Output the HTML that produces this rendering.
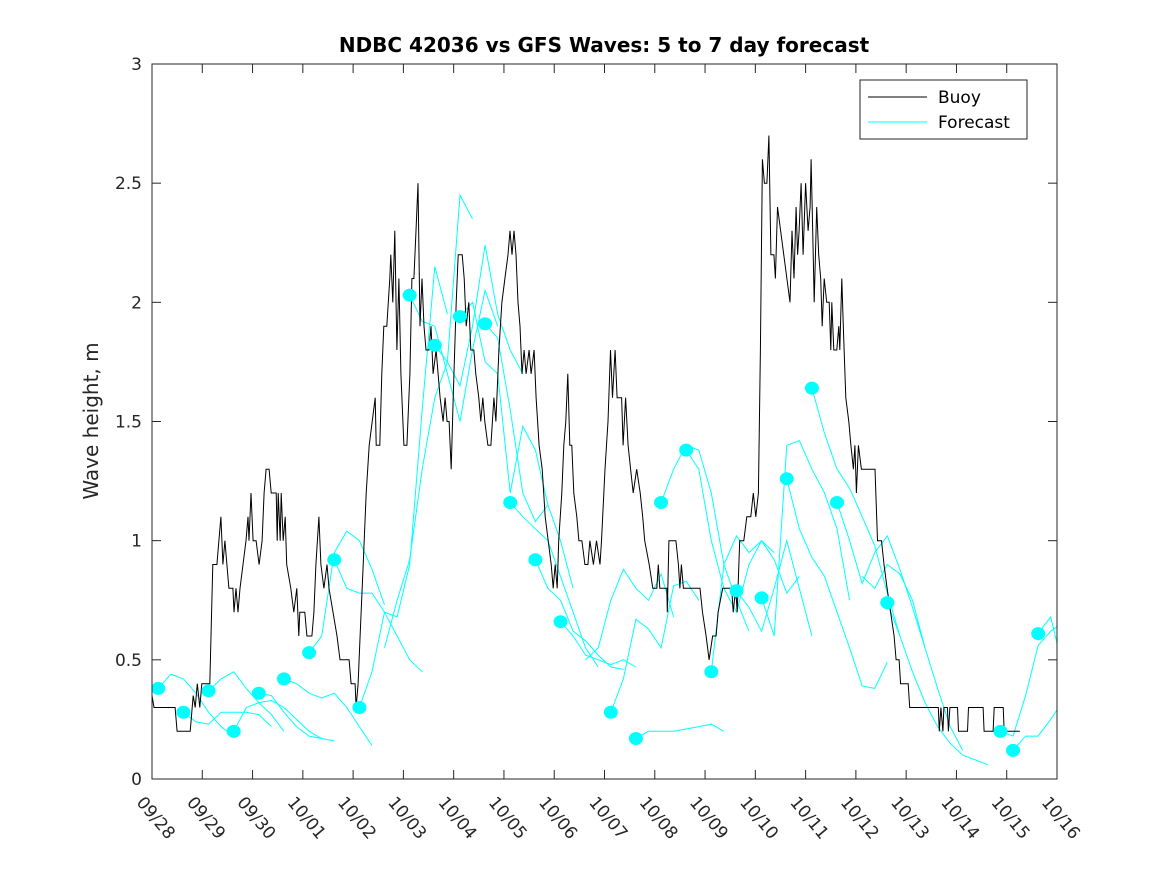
<!DOCTYPE html>
<html><head><meta charset="utf-8"><style>
body{margin:0;background:#fff}
svg{display:block;font-family:"DejaVu Sans","Liberation Sans",sans-serif}
</style></head><body>
<svg id="chart" width="1167" height="875" xmlns="http://www.w3.org/2000/svg">
<defs><clipPath id="plotclip"><rect x="152" y="64" width="905" height="715"/></clipPath></defs>
<rect x="0" y="0" width="1167" height="875" fill="#fff"/>
<text x="604" y="52" text-anchor="middle" font-size="20" font-weight="bold" fill="#000">NDBC 42036 vs GFS Waves: 5 to 7 day forecast</text>
<text transform="translate(98,421) rotate(-90)" text-anchor="middle" font-size="20" fill="#262626">Wave height, m</text>
<g id="axes"></g>
<g id="series" clip-path="url(#plotclip)"></g>
<rect x="152" y="64" width="905" height="715" fill="none" stroke="#262626" stroke-width="1"/>
<g>
<rect x="860" y="80" width="167" height="59" fill="#fff" stroke="#262626"/>
<line x1="868" y1="97" x2="927" y2="97" stroke="#000"/>
<text x="938" y="103" font-size="17" fill="#000">Buoy</text>
<line x1="868" y1="122" x2="927" y2="122" stroke="#00ffff"/>
<text x="938" y="128" font-size="17" fill="#000">Forecast</text>
</g>
</svg>
<script>
const xTickLabels=["09/28","09/29","09/30","10/01","10/02","10/03","10/04","10/05","10/06","10/07","10/08","10/09","10/10","10/11","10/12","10/13","10/14","10/15","10/16"];
const yTicks=[0,0.5,1,1.5,2,2.5,3];
const yTickLabels=["0","0.5","1","1.5","2","2.5","3"];
const buoyDay=[0,0.04,0.46,0.50,0.76,0.82,0.86,0.90,0.95,0.99,1.15,1.21,1.29,1.33,1.37,1.41,1.45,1.49,1.53,1.61,1.63,1.67,1.71,1.75,1.81,1.87,1.91,1.93,1.97,2.01,2.07,2.13,2.19,2.23,2.27,2.33,2.37,2.47,2.49,2.51,2.55,2.57,2.61,2.65,2.68,2.76,2.82,2.88,2.92,2.94,3.04,3.08,3.18,3.22,3.26,3.32,3.36,3.42,3.48,3.52,3.60,3.68,3.74,3.92,3.96,4.04,4.06,4.10,4.14,4.20,4.26,4.32,4.38,4.44,4.46,4.53,4.57,4.61,4.67,4.73,4.75,4.79,4.83,4.87,4.91,4.95,5.01,5.07,5.13,5.17,5.21,5.25,5.29,5.33,5.37,5.41,5.45,5.51,5.55,5.59,5.65,5.69,5.73,5.79,5.83,5.87,5.91,5.95,5.99,6.05,6.09,6.17,6.21,6.25,6.30,6.34,6.40,6.44,6.50,6.54,6.58,6.62,6.68,6.74,6.80,6.84,6.90,6.96,7.02,7.08,7.12,7.16,7.20,7.24,7.28,7.32,7.36,7.40,7.44,7.50,7.54,7.60,7.64,7.70,7.76,7.82,7.88,7.94,7.98,8.02,8.06,8.09,8.15,8.19,8.23,8.27,8.31,8.35,8.39,8.45,8.49,8.55,8.61,8.67,8.71,8.78,8.84,8.91,8.94,9.01,9.07,9.12,9.16,9.21,9.25,9.34,9.37,9.42,9.47,9.52,9.57,9.64,9.71,9.76,9.80,9.89,9.96,10.04,10.07,10.10,10.24,10.25,10.28,10.42,10.47,10.50,10.53,10.57,10.90,10.95,11.02,11.08,11.15,11.22,11.26,11.35,11.53,11.56,11.61,11.64,11.69,11.77,11.83,11.91,11.96,12.01,12.06,12.10,12.14,12.18,12.23,12.27,12.31,12.37,12.40,12.44,12.69,12.73,12.77,12.81,12.84,12.87,12.91,12.95,13.00,13.05,13.09,13.11,13.14,13.17,13.22,13.26,13.30,13.33,13.37,13.42,13.47,13.50,13.52,13.56,13.62,13.66,13.68,13.72,13.75,13.80,13.86,13.90,13.95,13.98,14.01,14.05,14.11,14.38,14.43,14.51,14.56,14.62,14.69,14.76,14.80,14.86,14.89,15.04,15.07,15.64,15.66,15.69,15.73,15.75,15.82,15.84,15.87,16.02,16.04,16.22,16.24,16.53,16.55,16.73,16.75,16.93,16.95,17.26];
const buoyVal=[0.35,0.3,0.3,0.2,0.2,0.35,0.3,0.4,0.3,0.4,0.4,0.9,0.9,1.0,1.1,0.9,1.0,0.9,0.8,0.8,0.7,0.8,0.7,0.8,0.9,1.0,1.1,1.0,1.2,1.0,1.0,0.9,1.0,1.2,1.3,1.3,1.2,1.2,1.0,1.2,1.0,1.2,1.0,1.1,0.9,0.8,0.7,0.8,0.6,0.7,0.7,0.6,0.6,0.7,0.9,1.1,0.9,0.8,0.9,0.8,0.7,0.6,0.5,0.5,0.4,0.4,0.3,0.4,0.6,0.9,1.2,1.4,1.5,1.6,1.4,1.4,1.7,1.9,1.9,2.1,2.2,2.0,2.3,1.8,2.1,1.7,1.4,1.4,1.7,2.1,2.1,2.3,2.5,1.9,2.1,1.9,1.8,1.8,1.9,1.7,1.8,1.7,1.6,1.5,1.6,1.5,1.5,1.3,1.6,2.0,2.2,2.2,2.1,1.9,2.0,1.8,1.8,1.7,1.6,1.5,1.6,1.5,1.4,1.4,1.6,1.5,1.8,2.0,2.1,2.2,2.3,2.2,2.3,2.2,2.0,1.9,1.7,1.8,1.7,1.8,1.7,1.8,1.6,1.4,1.3,1.1,1.0,0.9,0.8,0.9,0.8,1.0,1.2,1.4,1.5,1.7,1.4,1.4,1.2,1.1,1.0,1.0,0.9,0.9,1.0,0.9,1.0,0.9,1.0,1.3,1.5,1.8,1.6,1.8,1.6,1.6,1.4,1.6,1.4,1.3,1.2,1.3,1.2,1.1,1.0,0.9,0.8,0.8,0.9,0.8,0.8,0.7,1.0,1.0,0.9,0.8,0.9,0.8,0.8,0.7,0.6,0.5,0.6,0.6,0.7,0.8,0.8,0.7,0.8,0.7,1.0,1.0,1.1,1.1,1.2,1.1,1.2,1.8,2.6,2.5,2.5,2.7,2.2,2.2,2.1,2.4,2.0,2.3,2.1,2.4,2.2,2.3,2.5,2.2,2.5,2.3,2.4,2.6,2.3,2.0,2.4,2.2,2.1,1.9,2.1,2.0,2.0,1.8,2.0,1.8,1.8,1.9,1.8,2.1,1.9,1.6,1.5,1.4,1.3,1.4,1.2,1.4,1.3,1.3,1.0,1.0,0.9,0.8,0.7,0.6,0.5,0.5,0.4,0.4,0.3,0.3,0.2,0.3,0.2,0.3,0.3,0.2,0.3,0.3,0.2,0.2,0.3,0.3,0.2,0.2,0.3,0.3,0.2,0.2];
const fcStart=[0.125,0.625,1.125,1.625,2.125,2.625,3.125,3.625,4.125,4.625,5.125,5.625,6.125,6.625,7.125,7.625,8.125,8.625,9.125,9.625,10.125,10.625,11.125,11.625,12.125,12.625,13.125,13.625,14.125,14.625,16.875,17.125,17.625];
const fcMarked=[1,1,1,1,1,1,1,1,1,0,1,1,1,1,1,1,1,0,1,1,1,1,1,1,1,1,1,1,0,1,1,1,1];
const fcValues=[
[0.38,0.44,0.42,0.36,0.28,0.22,0.18],
[0.28,0.24,0.23,0.28,0.28,0.28,0.27,0.22],
[0.37,0.42,0.45,0.38,0.32,0.27,0.20],
[0.20,0.30,0.32,0.33,0.30,0.25,0.20,0.17],
[0.36,0.35,0.28,0.22,0.18,0.17,0.16],
[0.42,0.40,0.36,0.34,0.36,0.30,0.22,0.14],
[0.53,0.60,0.95,1.04,1.00,0.88,0.73],
[0.92,0.80,0.78,0.78,0.70,0.60,0.50,0.45],
[0.30,0.45,0.70,0.68,0.90,1.55,2.15,1.95],
[0.55,0.75,0.92,1.30,1.60,1.75,2.45,2.35],
[2.03,1.92,1.90,1.70,1.50,1.80,2.05,1.90],
[1.82,1.75,1.65,1.90,2.24,1.95,1.80,1.70],
[1.94,2.00,1.75,1.70,1.20,1.48,1.38,1.15],
[1.91,1.85,1.55,1.20,1.08,1.15,1.00,0.80],
[1.16,1.10,1.05,1.00,0.85,0.70,0.55,0.47],
[0.92,0.80,0.75,0.62,0.58,0.52,0.47,0.46],
[0.66,0.60,0.52,0.50,0.48,0.50,0.47],
[0.50,0.55,0.75,0.88,0.80,0.75,0.86,0.68],
[0.28,0.42,0.67,0.63,0.55,0.81,0.83,0.75],
[0.17,0.20,0.20,0.20,0.21,0.22,0.23,0.20],
[1.16,1.30,1.40,1.38,1.20,0.90,0.75,0.62],
[1.38,1.30,1.00,0.80,0.70,0.90,1.00,0.95],
[0.45,0.90,1.02,0.95,1.00,0.92,0.78,0.85],
[0.79,0.72,0.62,0.80,1.00,0.80,0.60],
[0.76,0.60,1.40,1.42,1.30,1.20,1.05,0.75],
[1.26,1.05,0.93,0.85,0.70,0.55,0.39,0.38,0.49],
[1.64,1.45,1.30,1.22,1.10,0.98,0.78,0.60],
[1.16,1.00,0.82,0.95,1.02,0.88,0.72,0.55],
[0.85,0.80,0.90,0.86,0.75,0.55,0.38,0.22,0.12],
[0.74,0.60,0.45,0.32,0.22,0.15,0.10,0.08,0.06],
[0.20,0.18,0.35,0.56,0.62,0.66],
[0.12,0.18,0.18,0.25,0.33,0.35],
[0.61,0.68,0.46]
];
const fcStep=0.25;
const X0=152,X1=1057,Y0=779,Y1=64,DMAX=18,VMAX=3;
function xs(d){return X0+(X1-X0)*d/DMAX;}
function ys(v){return Y0-(Y0-Y1)*v/VMAX;}
const NS='http://www.w3.org/2000/svg';
const axes=document.getElementById('axes');
const series=document.getElementById('series');
function mk(tag,attrs,parent){const e=document.createElementNS(NS,tag);for(const k in attrs)e.setAttribute(k,attrs[k]);parent.appendChild(e);return e;}
xTickLabels.forEach((lab,i)=>{
  const x=xs(i);
  const t1=mk('line',{x1:x,y1:Y0,x2:x,y2:Y0-9,stroke:'#262626'},axes);
  
  
  const t2=mk('line',{x1:x,y1:Y1,x2:x,y2:Y1+9,stroke:'#262626'},axes);
  
  
  const tx=mk('text',{x:0,y:0,'font-size':17,fill:'#262626',transform:'translate('+(x-7)+',795) rotate(50)','dominant-baseline':'hanging'},axes);
  tx.textContent=lab;
  
  
});
yTicks.forEach((v,i)=>{
  const y=ys(v);
  const t1=mk('line',{x1:X0,y1:y,x2:X0+9,y2:y,stroke:'#262626'},axes);
  
  
  const t2=mk('line',{x1:X1,y1:y,x2:X1-9,y2:y,stroke:'#262626'},axes);
  
  
  const tx=mk('text',{x:142,y:y+6,'font-size':17,fill:'#262626','text-anchor':'end'},axes);
  tx.textContent=yTickLabels[i];
  
  
});
fcValues.forEach((vals,k)=>{
  const pts=vals.map((v,j)=>xs(fcStart[k]+j*fcStep).toFixed(1)+','+ys(v).toFixed(1)).join(' ');
  const pl=mk('polyline',{points:pts,fill:'none',stroke:'#00ffff','stroke-width':1},series);
  
  
});
const bp=buoyDay.map((d,i)=>xs(d).toFixed(1)+','+ys(buoyVal[i]).toFixed(1)).join(' ');
const bl=mk('polyline',{points:bp,fill:'none',stroke:'#000','stroke-width':1},series);


fcValues.forEach((vals,k)=>{
  if(!fcMarked[k])return;
  const c=mk('ellipse',{cx:xs(fcStart[k]),cy:ys(vals[0]),rx:7,ry:6.5,fill:'#00ffff'},series);
  
  
});
</script>
</body></html>
